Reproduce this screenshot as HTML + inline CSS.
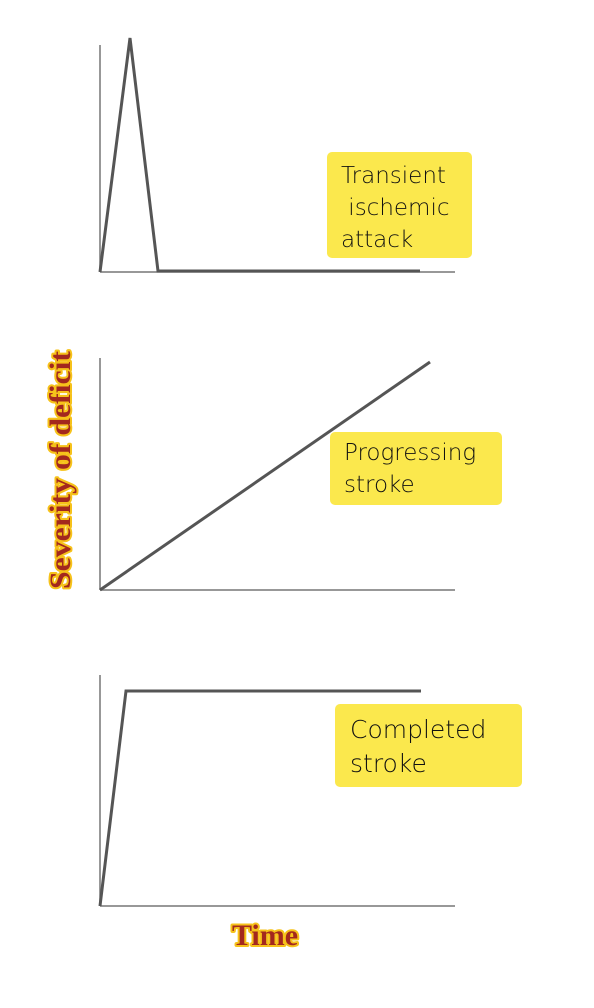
<!DOCTYPE html>
<html><head><meta charset="utf-8"><style>
html,body{margin:0;padding:0;background:#fff;}
body{width:594px;height:1008px;position:relative;overflow:hidden;}
.box{position:absolute;background:#fbe84d;border-radius:5px;font-family:"DejaVu Sans","Liberation Sans",sans-serif;font-weight:200;color:#111;font-size:23px;line-height:32px;box-sizing:border-box;}
</style></head><body>
<svg width="594" height="1008" style="position:absolute;left:0;top:0">
<g stroke="#777" stroke-width="1.5" fill="none">
<line x1="100" y1="45" x2="100" y2="272"/><line x1="100" y1="272" x2="455" y2="272"/>
<line x1="100" y1="358" x2="100" y2="590"/><line x1="100" y1="590" x2="455" y2="590"/>
<line x1="100" y1="675" x2="100" y2="906"/><line x1="100" y1="906" x2="455" y2="906"/>
</g>
<g stroke="#555" stroke-width="3" fill="none" stroke-linejoin="miter">
<polyline points="100,272 130,38 158,271 420,271"/>
<line x1="100" y1="590" x2="430" y2="362"/>
<polyline points="100,906 126,691 421,691"/>
</g>
<g font-family="Liberation Serif, serif" font-weight="bold" fill="#a3281e" stroke="#f6c21a" stroke-width="4" paint-order="stroke" stroke-linejoin="round">
<text x="0" y="0" font-size="30" text-anchor="middle" textLength="238" lengthAdjust="spacingAndGlyphs" transform="translate(70,470) rotate(-90)">Severity of deficit</text>
<text x="265" y="945" font-size="30" text-anchor="middle">Time</text>
</g>
</svg>
<div class="box" style="left:327px;top:152px;width:145px;height:106px;padding:8px 0 0 14px;">Transient<br>&nbsp;ischemic<br>attack</div>
<div class="box" style="left:330px;top:432px;width:172px;height:73px;padding:5px 0 0 14px;">Progressing<br>stroke</div>
<div class="box" style="left:335px;top:704px;width:187px;height:83px;padding:9px 0 0 15px;font-size:25px;line-height:34px;">Completed<br>stroke</div>
</body></html>
